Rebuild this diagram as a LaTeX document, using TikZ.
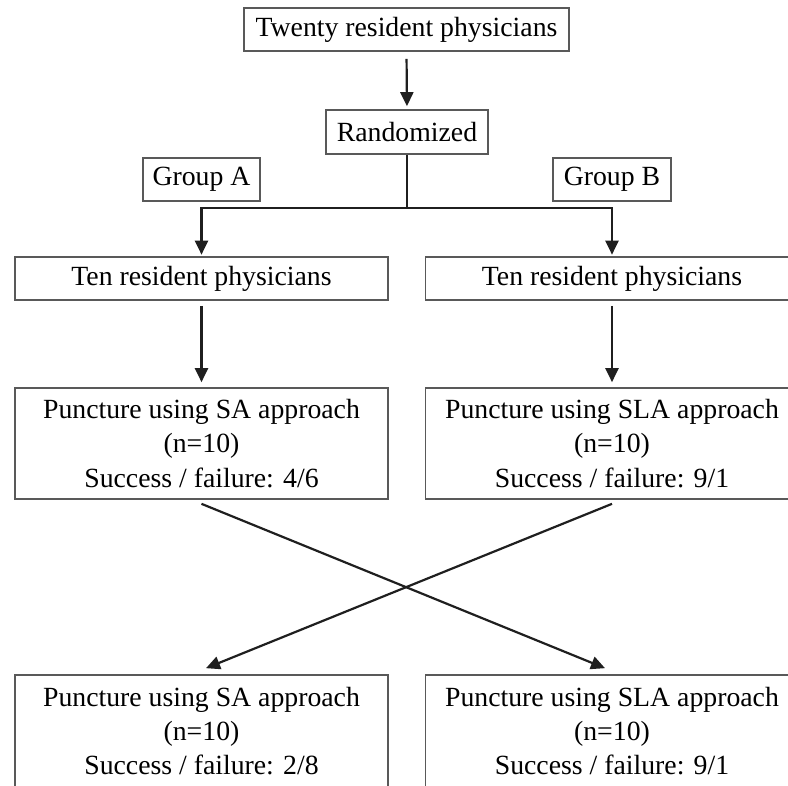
\documentclass[tikz,border=0pt]{standalone}
\usepackage{fontspec}
\setmainfont{Liberation Serif}
\usetikzlibrary{arrows.meta}

\begin{document}
\begin{tikzpicture}[x=0.02cm, y=-0.02cm,
  box/.style={draw=boxborder, line width=0.95pt, inner sep=0pt, align=center,
    font=\fontsize{15.8}{19.6}\selectfont},
  wide/.style={box, minimum width=7.46cm},
  arr/.style={-{Triangle[length=0.28cm, width=0.26cm]}, line width=1.25pt, draw=linecolor},
  plain/.style={line width=1.25pt, draw=linecolor}]
  % Define colors
  \colorlet{boxborder}{black!65}
  \colorlet{linecolor}{black!88}

  \useasboundingbox (0,0) rectangle (788,785);

  % Enrollment and randomization
  \node[box, minimum width=6.5cm, minimum height=0.86cm] (twenty) at (406.5,29.5) {Twenty resident physicians};
  \node[box, minimum width=3.24cm, minimum height=0.88cm] (rand) at (407,132) {Randomized};
  \node[box, minimum width=2.34cm, minimum height=0.86cm] (grpA) at (201.5,179.5) {Group A};
  \node[box, minimum width=2.36cm, minimum height=0.86cm] (grpB) at (612,179.5) {Group B};
  \coordinate (split) at (407,208);

  % Allocated groups
  \node[wide, minimum height=0.86cm] (tenA) at (201.5,278.5) {Ten resident physicians};
  \node[wide, minimum height=0.86cm] (tenB) at (612,278.5) {Ten resident physicians};

  % First puncture
  \node[wide, minimum height=2.22cm] (firstA) at (201.5,443.5) {Puncture using SA approach\\ (n=10)\\ Success / failure: 4/6};
  \node[wide, minimum height=2.22cm] (firstB) at (612,443.5) {Puncture using SLA approach\\ (n=10)\\ Success / failure: 9/1};

  % Second puncture (crossover)
  \node[wide, minimum height=2.24cm] (secA) at (201.5,731) {Puncture using SA approach\\ (n=10)\\ Success / failure: 2/8};
  \node[wide, minimum height=2.24cm] (secB) at (612,731) {Puncture using SLA approach\\ (n=10)\\ Success / failure: 9/1};

  % Connectors
  \draw[arr, shorten <=0.14cm, shorten >=0.06cm] (twenty.south) -- (rand.north);
  \draw[plain] (rand.south) -- (split);
  \draw[arr, shorten >=0.03cm] (split) -| (tenA.north);
  \draw[arr, shorten >=0.03cm] (split) -| (tenB.north);
  \draw[arr, shorten <=0.1cm, shorten >=0.1cm] (tenA.south) -- (firstA.north);
  \draw[arr, shorten <=0.1cm, shorten >=0.1cm] (tenB.south) -- (firstB.north);

  % Crossing arrows
  \draw[arr] ([yshift=-0.08cm]firstA.south) -- ([xshift=-0.14cm, yshift=0.12cm]secB.north);
  \draw[arr] ([yshift=-0.08cm]firstB.south) -- ([xshift=0.09cm, yshift=0.12cm]secA.north);
\end{tikzpicture}
\end{document}
